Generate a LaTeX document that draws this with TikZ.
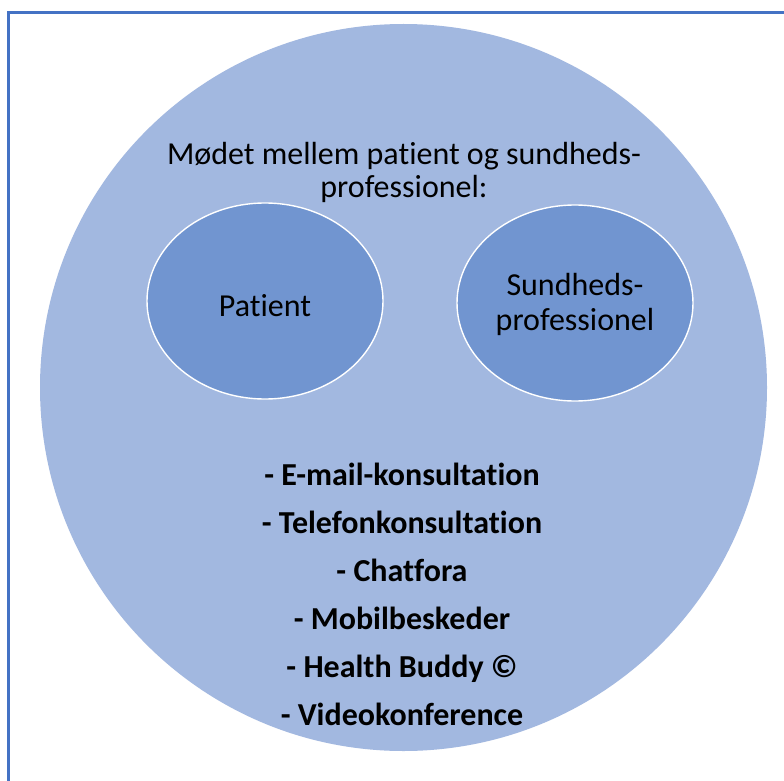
\documentclass[tikz,border=0pt]{standalone}
\usepackage{fontspec}
\setmainfont{Carlito}[Ligatures=NoCommon]
\usetikzlibrary{shapes.geometric}
\begin{document}
\begin{tikzpicture}[x=1pt,y=-1pt,
  innerdisc/.style={ellipse,fill=innerblue,draw=white,line width=1.4pt,
    minimum width=236pt,minimum height=196pt,inner sep=0pt},
  disclabel/.style={anchor=base,align=center,font=\fontsize{32}{35}\selectfont},
  heading/.style={align=center,font=\fontsize{32}{33}\selectfont},
  listing/.style={align=center,font=\fontsize{32}{48}\selectfont\bfseries}]
\definecolor{outerblue}{HTML}{A2B8E0}
\definecolor{innerblue}{HTML}{7195D0}
\definecolor{framecol}{HTML}{4472C4}
\useasboundingbox (0,0) rectangle (784,781);
\fill[white] (0,0) rectangle (784,781);
% outer frame (only its top and left sides fall inside the page)
\draw[framecol,line width=2.6pt] (8.7,800) -- (8.7,12.3) -- (800,12.3);
% large background disc
\fill[outerblue] (403.5,387.5) circle (363.5);
% heading: last line's baseline given
\node[heading,anchor=base] (title) at (404,197) {Mødet mellem patient og sundheds-\\professionel:};
\node[innerdisc] (patient) at (265,301) {};
\node[disclabel] (patientlabel) at (patient.center |- 0,316) {Patient};
\node[innerdisc] (sundhed) at (575,303) {};
\node[disclabel] (sundhedlabel) at (sundhed.center |- 0,330) {Sundheds-\\professionel};
% list of channels: last line's baseline given
\node[listing,anchor=base] (list) at (402,725)
  {- E-mail-konsultation\\- Telefonkonsultation\\- Chatfora\\- Mobilbeskeder\\- Health Buddy ©\\- Videokonference};
\end{tikzpicture}
\end{document}
